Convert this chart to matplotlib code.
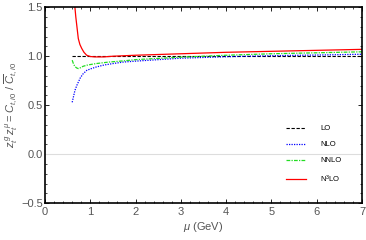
import matplotlib.pyplot as plt
from matplotlib.ticker import MultipleLocator

plt.rcParams['font.family'] = ['Liberation Sans', 'DejaVu Sans']
plt.rcParams['mathtext.fontset'] = 'custom'
plt.rcParams['mathtext.rm'] = 'Liberation Sans'
plt.rcParams['mathtext.it'] = 'Liberation Sans:italic'

# values
mu_lo = [0.6, 7.0]
lo = [1.0, 1.0]

mu_nlo = [0.6, 0.63, 0.66, 0.70, 0.735, 0.78, 0.84, 0.92, 1.0, 1.13, 1.3, 1.5, 1.72, 2.0, 2.5, 3.0, 4.0, 5.0, 6.0, 7.0]
nlo = [0.53, 0.59, 0.65, 0.70, 0.735, 0.78, 0.82, 0.855, 0.87, 0.89, 0.91, 0.925, 0.94, 0.95, 0.965, 0.98, 0.995, 1.005, 1.012, 1.02]

mu_nnlo = [0.6, 0.63, 0.66, 0.70, 0.735, 0.78, 0.84, 0.92, 1.0, 1.13, 1.4, 1.72, 2.0, 2.5, 3.0, 4.0, 5.0, 6.0, 7.0]
nnlo = [0.96, 0.92, 0.895, 0.88, 0.874, 0.882, 0.897, 0.908, 0.915, 0.925, 0.94, 0.952, 0.965, 0.978, 0.99, 1.01, 1.025, 1.035, 1.045]

mu_n3lo = [0.64, 0.66, 0.68, 0.70, 0.735, 0.77, 0.81, 0.86, 0.92, 1.0, 1.1, 1.3, 1.5, 2.0, 3.0, 4.0, 5.0, 6.0, 7.0]
n3lo = [1.65, 1.5, 1.40, 1.32, 1.18, 1.12, 1.08, 1.04, 1.01, 0.997, 0.993, 0.993, 1.0, 1.01, 1.025, 1.04, 1.05, 1.06, 1.07]

fig = plt.figure(figsize=(3.66, 2.4), dpi=100)
ax = fig.add_axes([0.123, 0.153, 0.866, 0.817])

ax.axhline(0, color='#dddddd', lw=0.8)
ax.plot(mu_lo, lo, color='black', ls=(0, (3, 1.5)), lw=0.8, label='LO')
ax.plot(mu_nlo, nlo, color='blue', ls=(0, (1, 1)), lw=0.9, label='NLO')
ax.plot(mu_nnlo, nnlo, color='#22dd22', ls=(0, (3, 1, 1, 1)), lw=0.9, label='NNLO')
ax.plot(mu_n3lo, n3lo, color='red', lw=0.9, label='N$^3$LO')

ax.set_xlim(0, 7)
ax.set_ylim(-0.5, 1.5)
ax.xaxis.set_major_locator(MultipleLocator(1))
ax.xaxis.set_minor_locator(MultipleLocator(0.2))
ax.yaxis.set_major_locator(MultipleLocator(0.5))
ax.yaxis.set_minor_locator(MultipleLocator(0.1))
ax.tick_params(which='both', direction='in', top=True, right=True, colors='black',
               labelcolor='#555555', labelsize=8)
ax.tick_params(axis='x', pad=2.5)
ax.tick_params(axis='y', pad=1.5)
ax.tick_params(which='major', length=3, width=0.6)
ax.tick_params(which='minor', length=1.5, width=0.5)
for s in ax.spines.values():
    s.set_linewidth(1.2)

ax.set_xlabel(r'$\mu$ (GeV)', color='#555555', fontsize=8, labelpad=2)
ax.set_ylabel(r'$z_t^{\,g}\, z_t^{\,\mu} = C_{t,i0}\ /\ \overline{C}_{t,i0}$', color='#555555', fontsize=8, labelpad=1)

leg = ax.legend(loc='upper left', bbox_to_anchor=(0.76, 0.40), frameon=False, fontsize=5.5,
                borderpad=0, borderaxespad=0, handlelength=2.6, handletextpad=1.9,
                labelspacing=1.15)

fig.savefig('out.png', dpi=100)
